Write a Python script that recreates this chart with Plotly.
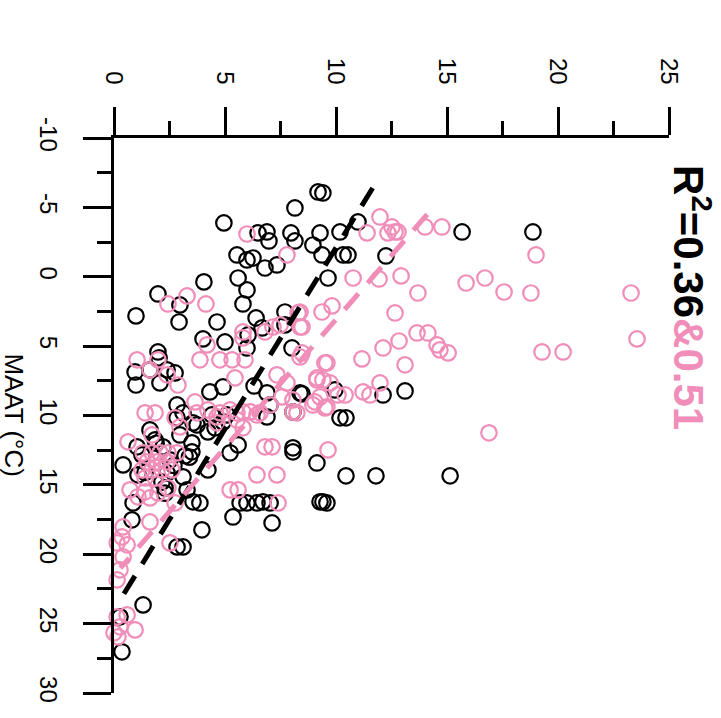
import plotly.graph_objects as go

# ---- data (x = proxy value 0-25, maat = MAAT in °C) ----
black_x = [9.19, 9.41, 8.15, 4.95, 6.49, 6.89, 6.98, 7.97, 8.15, 8.96, 9.28, 10.18, 10.99,
           5.54, 5.99, 6.26, 6.80, 7.34, 9.37, 10.32, 10.54, 12.25, 9.64, 5.59, 4.05, 5.99,
           1.98, 2.97, 2.93, 5.81, 4.64, 6.40, 6.67, 7.70, 7.70, 6.04, 4.01, 5.00, 0.99,
           8.02, 5.99, 1.98, 2.03, 2.39, 2.75, 1.62, 0.95, 0.99, 2.07, 4.32, 4.91, 6.31,
           6.89, 7.03, 8.38, 8.06, 2.84, 3.11, 3.56, 4.41, 4.91, 6.89, 8.47, 9.95, 12.12,
           13.11, 10.18, 10.45, 8.06, 2.84, 3.74, 4.23, 4.55, 5.09, 1.04, 1.26, 2.21, 2.97,
           3.51, 3.51, 0.41, 1.08, 2.39, 3.11, 3.29, 2.30, 5.59, 5.23, 8.06, 9.14, 4.23,
           3.56, 3.87, 5.68, 5.99, 6.44, 6.71, 7.03, 9.28, 9.41, 9.59, 5.36, 7.12, 0.86,
           0.81, 3.96, 2.84, 3.11, 1.31, 0.36, 0.27, 15.68, 18.87, 15.14, 11.80, 10.45,
           1.85, 2.52, 1.62, 2.16, 3.20, 1.40, 2.70, 1.90, 3.40, 2.30]
black_maat = [-6.11, -6.04, -4.96, -3.88, -3.16, -3.23, -2.58, -3.16, -2.58, -2.29, -3.16, -3.23, -3.95,
              -1.57, -1.21, -1.35, -0.63, -0.85, -1.57, -1.57, -1.57, -1.50, 0.09, 0.09, 0.37, 0.95,
              1.24, 2.03, 3.26, 1.96, 3.26, 2.97, 3.69, 2.54, 3.47, 4.19, 4.48, 4.70, 2.82,
              5.13, 5.13, 5.42, 5.85, 6.71, 6.93, 6.71, 6.86, 7.80, 7.65, 8.30, 7.94, 7.87,
              8.37, 9.24, 8.37, 9.74, 9.24, 9.81, 10.53, 9.96, 10.46, 10.10, 8.44, 8.16, 8.52,
              8.23, 10.17, 10.17, 12.33, 10.17, 10.68, 11.18, 10.89, 9.96, 12.26, 12.84, 12.26, 11.40,
              12.62, 11.97, 13.56, 14.28, 14.14, 14.42, 15.36, 15.22, 12.12, 12.69, 12.62, 13.42, 13.92,
              16.22, 16.30, 16.30, 16.30, 16.30, 16.22, 16.30, 16.22, 16.22, 16.30, 17.31, 17.74, 16.30,
              17.52, 18.24, 19.47, 19.47, 23.65, 27.03, 24.51, -3.23, -3.23, 14.35, 14.35, 14.35,
              11.76, 13.20, 11.04, 14.80, 12.90, 14.10, 13.60, 12.00, 13.00, 15.60]

pink_x = [5.99, 7.79, 3.29, 2.43, 4.14, 9.37, 8.38, 8.38, 7.48, 7.16, 6.80, 5.81, 5.81, 4.19,
          3.87, 4.77, 5.32, 5.90, 1.04, 1.62, 1.98, 2.39, 2.88, 5.45, 7.34, 7.79, 8.38, 9.14,
          9.50, 9.28, 7.57, 8.06, 3.65, 3.74, 1.40, 1.85, 2.75, 4.23, 4.64, 5.23, 5.54, 5.81,
          6.13, 6.44, 5.54, 4.64, 2.97, 4.77, 6.58, 5.81, 7.03, 8.24, 8.96, 9.59, 1.71, 0.63,
          6.80, 7.12, 9.64, 1.31, 1.71, 2.07, 2.43, 2.84, 1.49, 1.94, 2.39, 1.26, 1.71, 2.16,
          2.61, 1.40, 1.85, 0.72, 1.40, 1.98, 2.43, 1.08, 1.62, 2.75, 6.44, 7.34, 5.23, 5.59,
          7.39, 1.62, 0.41, 0.36, 0.59, 0.14, 2.52, 0.41, 0.27, 0.14, 0.14, 0.59, 0.95, 0.00,
          0.18, 0.27, 11.98, 11.40, 12.52, 12.66, 12.34, 14.01, 14.77, 19.01, 10.77, 11.94, 12.93,
          13.69, 15.86, 16.71, 17.57, 18.78, 8.29, 9.82, 8.47, 12.66, 13.65, 14.14, 14.55, 14.68,
          15.05, 12.12, 12.84, 11.17, 13.11, 9.59, 8.47, 19.28, 20.23, 9.14, 9.41, 9.73, 10.09,
          10.41, 11.22, 11.53, 11.98, 9.05, 9.50, 8.06, 16.89, 23.29, 23.56, 12.79]
pink_maat = [-3.08, -1.57, 1.38, 1.96, 1.96, 2.54, 2.54, 3.62, 3.47, 3.62, 3.98, 3.98, 4.41, 4.91,
             5.99, 5.99, 5.99, 5.99, 5.99, 6.71, 5.99, 7.07, 7.80, 7.29, 7.07, 7.65, 5.78, 7.29,
             6.21, 8.66, 8.66, 8.88, 9.02, 9.81, 9.81, 9.81, 10.17, 9.60, 10.10, 9.60, 9.81, 9.74,
             9.74, 9.96, 10.32, 10.53, 10.82, 9.81, 9.81, 10.89, 9.24, 9.81, 9.24, 9.38, 11.40, 11.90,
             12.26, 12.26, 12.48, 12.69, 12.69, 12.69, 12.69, 12.69, 13.34, 13.34, 13.34, 13.92, 13.92, 13.92,
             13.92, 14.50, 14.50, 15.36, 15.50, 15.58, 15.22, 15.86, 15.94, 16.30, 14.28, 14.28, 15.36, 15.36,
             16.30, 17.67, 18.03, 18.75, 19.32, 19.18, 19.18, 20.19, 21.12, 21.84, 24.51, 24.37, 25.45, 25.66,
             25.95, 25.23, -4.31, -3.16, -3.59, -3.23, -3.16, -3.59, -3.59, -1.57, 0.09, 0.16, -0.06,
             1.17, 0.45, 0.09, 1.10, 1.17, 2.61, 2.10, 3.62, 2.61, 4.05, 4.05, 4.91, 5.27,
             5.49, 5.13, 4.63, 5.92, 6.35, 6.21, 5.49, 5.42, 5.42, 7.44, 7.44, 7.65, 8.52,
             8.52, 8.30, 8.52, 7.65, 9.02, 9.45, 9.74, 11.25, 1.17, 4.48, -3.23]

# regression lines: x = intercept + slope * MAAT, drawn over a MAAT range
black_fit = dict(intercept=9.2, slope=-0.383, maat_range=[-6.4, 23.5])
pink_fit = dict(intercept=11.67, slope=-0.542, maat_range=[-4.5, 21.0])

r2_black = "0.36"
r2_pink = "0.51"

x_ticks = [0, 5, 10, 15, 20, 25]
x_ticktext = ["0", "5", "10", "15", "20", "25"]
y_ticks = [-10, -5, 0, 5, 10, 15, 20, 25, 30]
y_ticktext = ["-10", "-5", "0", "5", "10", "15", "20", "25", "30"]

BLACK = "#000000"
PINK = "#F08DB8"
FONT = "Liberation Sans, Arial, sans-serif"

fig = go.Figure()

marker_common = dict(symbol="circle-open", size=15.5)
fig.add_trace(go.Scatter(x=black_x, y=black_maat, mode="markers", cliponaxis=False,
                         marker=dict(color=BLACK, line=dict(width=2.2, color=BLACK), **marker_common),
                         showlegend=False))
fig.add_trace(go.Scatter(x=pink_x, y=pink_maat, mode="markers", cliponaxis=False,
                         marker=dict(color=PINK, line=dict(width=2.2, color=PINK), **marker_common),
                         showlegend=False))

for fit, col in [(black_fit, BLACK), (pink_fit, PINK)]:
    m = fit["maat_range"]
    xs = [fit["intercept"] + fit["slope"] * v for v in m]
    fig.add_trace(go.Scatter(x=xs, y=m, mode="lines", cliponaxis=False,
                             line=dict(color=col, width=5, dash="21px,14px"),
                             showlegend=False))

axis_common = dict(
    showline=True, linewidth=3, linecolor="black", mirror=False,
    ticks="outside", ticklen=28, tickwidth=3, tickcolor="black",
    showgrid=False, zeroline=False, tickangle=90,
    tickfont=dict(family=FONT, size=24, color="black"),
    minor=dict(dtick=2.5, ticks="outside", ticklen=14, tickwidth=3, tickcolor="black", showgrid=False),
)

fig.update_xaxes(range=[0, 25], side="top", tickvals=x_ticks, ticktext=x_ticktext,
                 ticklabelstandoff=14, **axis_common)
fig.update_yaxes(range=[30, -10], tickvals=y_ticks, ticktext=y_ticktext,
                 ticklabelstandoff=14, **axis_common)
fig.update_xaxes(minor_tick0=0)
fig.update_yaxes(minor_tick0=-10)

fig.add_annotation(text="MAAT (°C)", xref="paper", yref="paper", x=-0.18, y=0.5,
                   xanchor="center", yanchor="middle", textangle=90, showarrow=False,
                   font=dict(family=FONT, size=26, color="black"))

fig.add_annotation(text=f"<b>R<sup>2</sup>={r2_black}<span style='color:{PINK}'>&amp;{r2_pink}</span></b>",
                   xref="paper", yref="paper", x=1.041, y=0.712,
                   xanchor="center", yanchor="middle", textangle=90, showarrow=False,
                   font=dict(family=FONT, size=42, color="black"))

fig.update_layout(width=721, height=718, margin=dict(l=114, r=52, t=138, b=25),
                  plot_bgcolor="white", paper_bgcolor="white")

fig.write_html("out.html")
